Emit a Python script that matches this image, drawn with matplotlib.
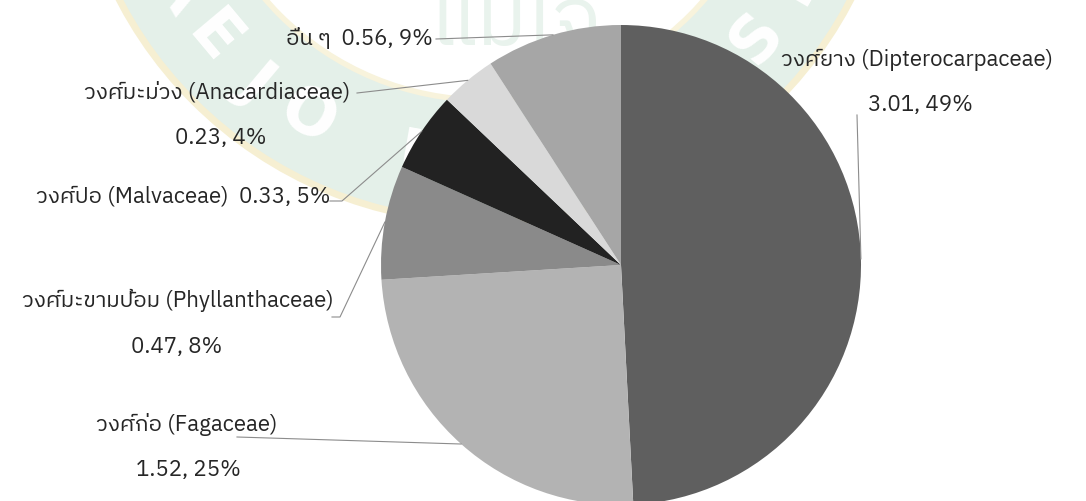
import numpy as np
import matplotlib
matplotlib.use("Agg")
import matplotlib.pyplot as plt
from matplotlib import font_manager
from matplotlib.ft2font import FT2Font
from matplotlib.patches import Circle, Wedge

# ข้อมูลพื้นที่หน้าตัด (ตร.ม./เฮกตาร์) แยกตามวงศ์
names_th = ["วงศ์ยาง", "วงศ์ก่อ", "วงศ์มะขามป้อม", "วงศ์ปอ", "วงศ์มะม่วง", "อื่น ๆ"]
names_sci = ["Dipterocarpaceae", "Fagaceae", "Phyllanthaceae", "Malvaceae", "Anacardiaceae", ""]
values = [3.01, 1.52, 0.47, 0.33, 0.23, 0.56]
colors = ["#5f5f5f", "#b3b3b3", "#8a8a8a", "#222222", "#d9d9d9", "#a6a6a6"]

W, H = 1086, 501


def find_thai_font():
    found = []
    for f in font_manager.fontManager.ttflist:
        try:
            if 0x0E27 in FT2Font(f.fname).get_charmap():
                found.append(f.name)
        except Exception:
            pass
    for n in found:
        if "Sans" in n and "Mono" not in n:
            return n
    return found[0] if found else None


thai = find_thai_font()
plt.rcParams['font.family'] = ([thai] if thai else []) + ['DejaVu Sans']


def px(x, y):
    # พิกัดพิกเซลแบบแกน y ชี้ลง -> พิกัดข้อมูล
    return x, H - y


fig = plt.figure(figsize=(W / 100, H / 100), dpi=100)
ax = fig.add_axes([0, 0, 1, 1])

# ลายน้ำตราสัญลักษณ์ด้านหลัง
wc = px(485, -190)
ax.add_patch(Wedge(wc, 412, 0, 360, width=122, facecolor="#e4f0e9", edgecolor="none", zorder=0))
ax.add_patch(Circle(wc, 412, fill=False, edgecolor="#f6efd2", lw=5, zorder=0.1))
ax.add_patch(Circle(wc, 290, fill=False, edgecolor="#f8f3dc", lw=4, zorder=0.1))
for i, ch in enumerate("MAEJO UNIVERSITY"):
    a = np.deg2rad(200 + 10 * i)
    ax.text(wc[0] + 355 * np.cos(a), wc[1] + 355 * np.sin(a), ch,
            rotation=np.rad2deg(a) + 90, ha="center", va="center",
            fontsize=46, fontweight="bold", color="white",
            family="DejaVu Sans", zorder=0.2)
ax.text(*px(515, 22), "แม่โจ้", fontsize=60, color="#e9f3ed",
        ha="center", va="center", zorder=0.2)

center = px(621, 265)
radius = 240
wedges, _ = ax.pie(values, colors=colors, startangle=90, counterclock=False,
                   center=center, radius=radius, frame=False,
                   wedgeprops=dict(linewidth=0, zorder=1))

total = sum(values)
pct = [round(v / total * 100) for v in values]

# ตำแหน่งป้ายชื่อ (name_x, name_y, value_x, value_y) และจุดเริ่มเส้นโยง
label_pos = [(917, 60, 920, 105), (187, 425, 188, 470), (178, 300, 177, 347),
             (330, 196, None, None), (217, 92, 221, 138), (433, 38, None, None)]
leader_pts = [[(857, 115)], [(237, 437)], [(332, 317), (340, 317)],
              [(330, 201), (342, 201)], [(357, 93)], [(436, 39)]]

fs = 16
for i, w in enumerate(wedges):
    nx, ny, vx, vy = label_pos[i]
    sci = f" ({names_sci[i]})" if names_sci[i] else ""
    val = f"{values[i]:.2f}, {pct[i]}%"
    if vx is None:
        ax.text(*px(nx, ny), f"{names_th[i]}{sci}  {val}", fontsize=fs,
                color="#262626", ha="right", va="center", zorder=3)
    else:
        ax.text(*px(nx, ny), names_th[i] + sci, fontsize=fs, color="#262626",
                ha="center", va="center", zorder=3)
        ax.text(*px(vx, vy), val, fontsize=fs, color="#262626",
                ha="center", va="center", zorder=3)
    mid = np.deg2rad((w.theta1 + w.theta2) / 2)
    edge = (center[0] + radius * np.cos(mid), center[1] + radius * np.sin(mid))
    pts = [px(*p) for p in leader_pts[i]] + [edge]
    xs, ys = zip(*pts)
    ax.plot(xs, ys, color="#8c8c8c", lw=0.8, zorder=2)

ax.set_xlim(0, W)
ax.set_ylim(0, H)
ax.set_aspect("equal")
ax.set_axis_off()

fig.savefig("out.png", dpi=100)
